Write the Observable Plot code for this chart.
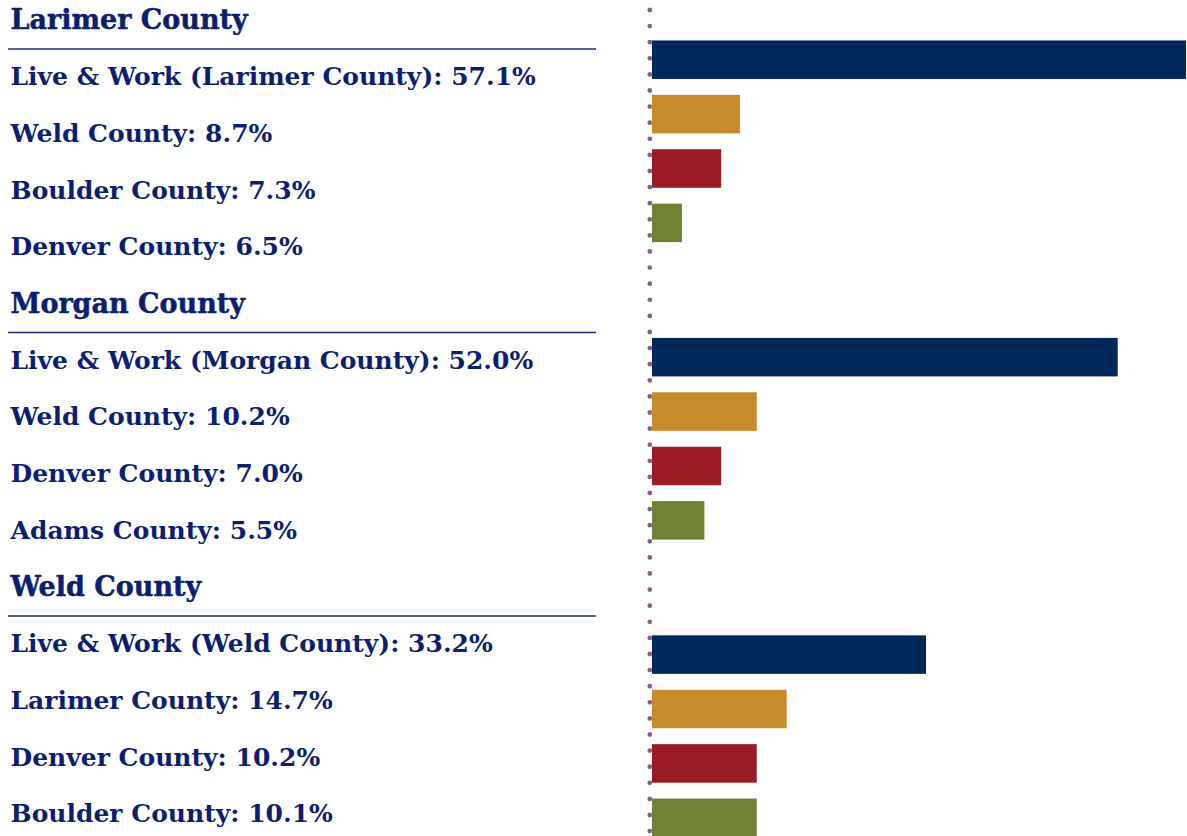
<!DOCTYPE html>
<html>
<head>
<meta charset="utf-8">
<script src="https://cdn.jsdelivr.net/npm/d3@7"></script>
<script src="https://cdn.jsdelivr.net/npm/@observablehq/plot@0.6"></script>
<style>
  html, body { margin: 0; padding: 0; background: #ffffff; }
  #chart { display: flex; flex-direction: row; width: 1187px; height: 836px; overflow: hidden; }
  #chart svg { display: block; }
</style>
</head>
<body>
<div id="chart"></div>
<script>
// ---- Data ----
const groups = ["Larimer County", "Morgan County", "Weld County"];
const destinations = [
  ["Live & Work (Larimer County)", "Weld County", "Boulder County", "Denver County"],
  ["Live & Work (Morgan County)", "Weld County", "Denver County", "Adams County"],
  ["Live & Work (Weld County)", "Larimer County", "Denver County", "Boulder County"]
];
const shares = [
  [57.1, 8.7, 7.3, 6.5],
  [52.0, 10.2, 7.0, 5.5],
  [33.2, 14.7, 10.2, 10.1]
];
// bar lengths as drawn in the reference (same units as shares)
const barLengths = [
  [57.1, 9.4, 7.4, 3.2],
  [49.8, 11.2, 7.4, 5.6],
  [29.3, 14.4, 11.2, 11.2]
];
const palette = ["#00285a", "#c78b2c", "#9b1b25", "#6f8134"];

const textColor = "#0b1e70";
const headerFont = "'DejaVu Serif', serif";
const labelFont = "'DejaVu Serif', serif";

// ---- Tables built from the arrays ----
const rows = [];
groups.forEach((g, gi) => {
  rows.push({row: rows.length, kind: "header", label: g});
  destinations[gi].forEach((d, ri) => {
    rows.push({row: rows.length, kind: "row", label: `${d}: ${shares[gi][ri].toFixed(1)}%`});
  });
});
const headers = rows.filter(d => d.kind === "header");
const items = rows.filter(d => d.kind === "row");

const groupStep = 5.468;   // bar slots between group starts
const half = 0.354;        // half bar thickness in slot units
const bars = [];
groups.forEach((g, gi) => {
  barLengths[gi].forEach((v, ri) => {
    bars.push({group: g, rank: ri, value: v, slot: gi * groupStep + ri});
  });
});

// ---- Left: labels ----
const left = Plot.plot({
  width: 620,
  height: 836,
  marginTop: 0, marginBottom: 0, marginLeft: 8, marginRight: 24,
  x: {domain: [0, 1], axis: null},
  y: {type: "linear", domain: [0, 1], range: [20, 76.7], axis: null},
  style: {background: "transparent", overflow: "visible"},
  marks: [
    Plot.ruleY(headers, {y: "row", dy: 28.5, stroke: "#1c2b7c", strokeWidth: 1.3}),
    Plot.text(headers, {
      y: "row", text: "label", frameAnchor: "left", textAnchor: "start", dx: 2,
      fill: textColor, fontSize: 27, fontWeight: "bold", fontFamily: headerFont,
      stroke: textColor, strokeWidth: 0.5
    }),
    Plot.text(items, {
      y: "row", text: "label", frameAnchor: "left", textAnchor: "start", dx: 2,
      fill: textColor, fontSize: 25, fontWeight: "bold", fontFamily: labelFont
    })
  ]
});

// ---- Right: bars ----
const right = Plot.plot({
  width: 567,
  height: 836,
  marginTop: 0, marginBottom: 0, marginLeft: 32, marginRight: 1,
  x: {domain: [0, 57.1], axis: null},
  y: {type: "linear", domain: [0, 1], range: [59.7, 114.1], axis: null},
  color: {type: "ordinal", domain: [0, 1, 2, 3], range: palette},
  style: {background: "transparent", overflow: "visible"},
  marks: [
    Plot.ruleX([0], {
      stroke: "#8a5f80", strokeWidth: 4.8, strokeLinecap: "round",
      strokeDasharray: "0,16.1", strokeDashoffset: 6.1, dx: -2.7
    }),
    Plot.rect(bars, {
      x1: 0, x2: "value",
      y1: d => d.slot - half, y2: d => d.slot + half,
      fill: "rank"
    })
  ]
});

const chart = document.getElementById("chart");
chart.appendChild(left);
chart.appendChild(right);
</script>
</body>
</html>
